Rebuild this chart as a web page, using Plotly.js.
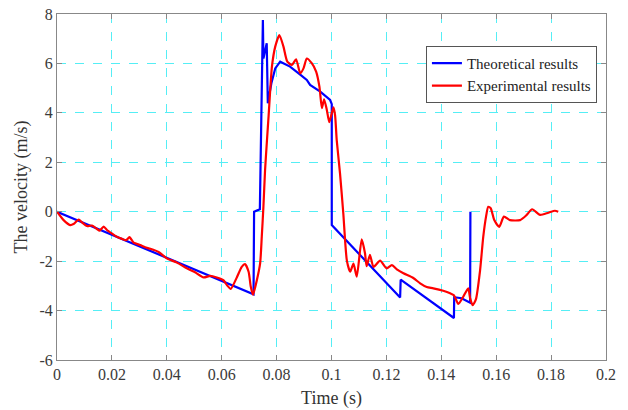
<!DOCTYPE html>
<html>
<head>
<meta charset="utf-8">
<script src="https://cdn.plot.ly/plotly-3.0.1.min.js"></script>
<style>html,body{margin:0;padding:0;background:#fff;}#chart{width:628px;height:410px;}</style>
</head>
<body>
<div id="chart"></div>
<script>
// Theoretical results (blue)
var theoT = [0, 0.0716, 0.0718, 0.0736, 0.0739, 0.0750, 0.0752, 0.0764, 0.0768, 0.0781, 0.0795, 0.0813, 0.0849, 0.0886, 0.0910, 0.0922, 0.0959, 0.0995, 0.1001, 0.1001, 0.1250, 0.1252, 0.1446, 0.1447, 0.1474, 0.1505, 0.1506];
var theoV = [0, -3.34, 0.0, 0.1, 0.1, 7.76, 6.2, 6.82, 4.39, 5.2, 5.8, 6.07, 5.87, 5.55, 5.33, 5.13, 4.86, 4.52, 4.35, -0.54, -3.47, -2.75, -4.3, -3.46, -3.5, -3.68, 0.0];

// Experimental results (red)
var expT = [0, 0.0024, 0.0048, 0.006, 0.0079, 0.0091, 0.0109, 0.0127, 0.0146, 0.0155, 0.017, 0.0182, 0.02, 0.0218, 0.0237, 0.0252, 0.0264, 0.0279, 0.0303, 0.0321, 0.034, 0.037, 0.04, 0.0437, 0.0473, 0.0503, 0.0534, 0.0558, 0.0582, 0.0606, 0.0619, 0.0633, 0.0655, 0.0673, 0.0685, 0.0698, 0.0706, 0.0714, 0.0728, 0.074, 0.0746, 0.0752, 0.0758, 0.0765, 0.0771, 0.0783, 0.0795, 0.081, 0.0825, 0.0839, 0.0856, 0.0871, 0.0886, 0.0898, 0.091, 0.0928, 0.0944, 0.0956, 0.0965, 0.0973, 0.0983, 0.0992, 0.1007, 0.1013, 0.1019, 0.1031, 0.1043, 0.1056, 0.1068, 0.108, 0.1092, 0.111, 0.1122, 0.1128, 0.114, 0.1153, 0.1177, 0.1201, 0.122, 0.1238, 0.1262, 0.1298, 0.1323, 0.1347, 0.1371, 0.1407, 0.1432, 0.1446, 0.1462, 0.148, 0.1498, 0.1505, 0.1514, 0.1526, 0.1541, 0.1553, 0.1563, 0.1571, 0.158, 0.1593, 0.1611, 0.1628, 0.165, 0.1687, 0.1711, 0.1731, 0.176, 0.179, 0.1814, 0.1826];
var expV = [0, -0.34, -0.54, -0.5, -0.32, -0.43, -0.58, -0.56, -0.7, -0.77, -0.6, -0.74, -0.88, -1.01, -1.1, -1.15, -1.03, -1.25, -1.35, -1.44, -1.5, -1.63, -1.89, -2.06, -2.29, -2.45, -2.66, -2.6, -2.66, -2.77, -2.97, -3.12, -2.66, -2.23, -2.12, -2.43, -3.04, -3.36, -2.77, -2.09, -1.01, 0.2, 1.69, 2.9, 3.9, 5.87, 6.68, 7.15, 6.68, 6.07, 5.94, 6.17, 5.6, 5.8, 6.2, 6.01, 5.67, 5.06, 4.19, 4.55, 4.12, 3.62, 4.22, 3.91, 2.9, 1.55, -0.07, -1.98, -2.43, -2.1, -2.63, -1.12, -1.68, -2.2, -1.75, -2.23, -1.98, -2.29, -2.16, -2.33, -2.49, -2.68, -2.9, -3.05, -3.1, -3.2, -3.3, -3.38, -3.73, -3.44, -3.1, -3.5, -3.78, -3.55, -2.4, -1.0, -0.2, 0.2, 0.14, -0.34, -0.61, -0.2, -0.34, -0.34, -0.13, 0.1, -0.13, -0.04, 0.04, 0.0];

var xTicks = [0, 0.02, 0.04, 0.06, 0.08, 0.1, 0.12, 0.14, 0.16, 0.18, 0.2];
var xTickText = ['0', '0.02', '0.04', '0.06', '0.08', '0.1', '0.12', '0.14', '0.16', '0.18', '0.2'];
var yTicks = [-6, -4, -2, 0, 2, 4, 6, 8];
var yTickText = ['-6', '-4', '-2', '0', '2', '4', '6', '8'];

var font = '"Liberation Serif", "Times New Roman", serif';
var traces = [
  {x: theoT, y: theoV, type: 'scatter', mode: 'lines', name: 'Theoretical results',
   line: {color: '#0000FF', width: 2.2}},
  {x: expT, y: expV, type: 'scatter', mode: 'lines', name: 'Experimental results',
   line: {color: '#FF0000', width: 2.2, shape: 'spline', smoothing: 0.6}}
];
var axisCommon = {
  showline: true, linecolor: '#888', linewidth: 1, mirror: 'ticks',
  ticks: 'inside', ticklen: 5, tickcolor: '#888',
  showgrid: true, gridcolor: '#55EEF5', griddash: 'dash', gridwidth: 1,
  zeroline: false, tickfont: {family: font, size: 16, color: '#3a3a3a'}
};
var layout = {
  width: 628, height: 410,
  margin: {l: 57, r: 22, t: 14, b: 50},
  paper_bgcolor: '#fff', plot_bgcolor: '#fff',
  font: {family: font},
  showlegend: true,
  legend: {x: 0.672, y: 0.908, xanchor: 'left', yanchor: 'top',
    bordercolor: '#555', borderwidth: 1, bgcolor: '#fff',
    font: {family: font, size: 15, color: '#222'}, itemwidth: 30,
    tracegroupgap: 0},
  xaxis: Object.assign({}, axisCommon, {
    range: [0, 0.2], tickvals: xTicks, ticktext: xTickText,
    title: {text: 'Time (s)', font: {family: font, size: 18, color: '#333'}, standoff: 9}
  }),
  yaxis: Object.assign({}, axisCommon, {
    range: [-6, 8], tickvals: yTicks, ticktext: yTickText,
    title: {text: 'The velocity (m/s)', font: {family: font, size: 18, color: '#333'}, standoff: 7}
  })
};
Plotly.newPlot('chart', traces, layout, {displayModeBar: false, staticPlot: true});
</script>
</body>
</html>
